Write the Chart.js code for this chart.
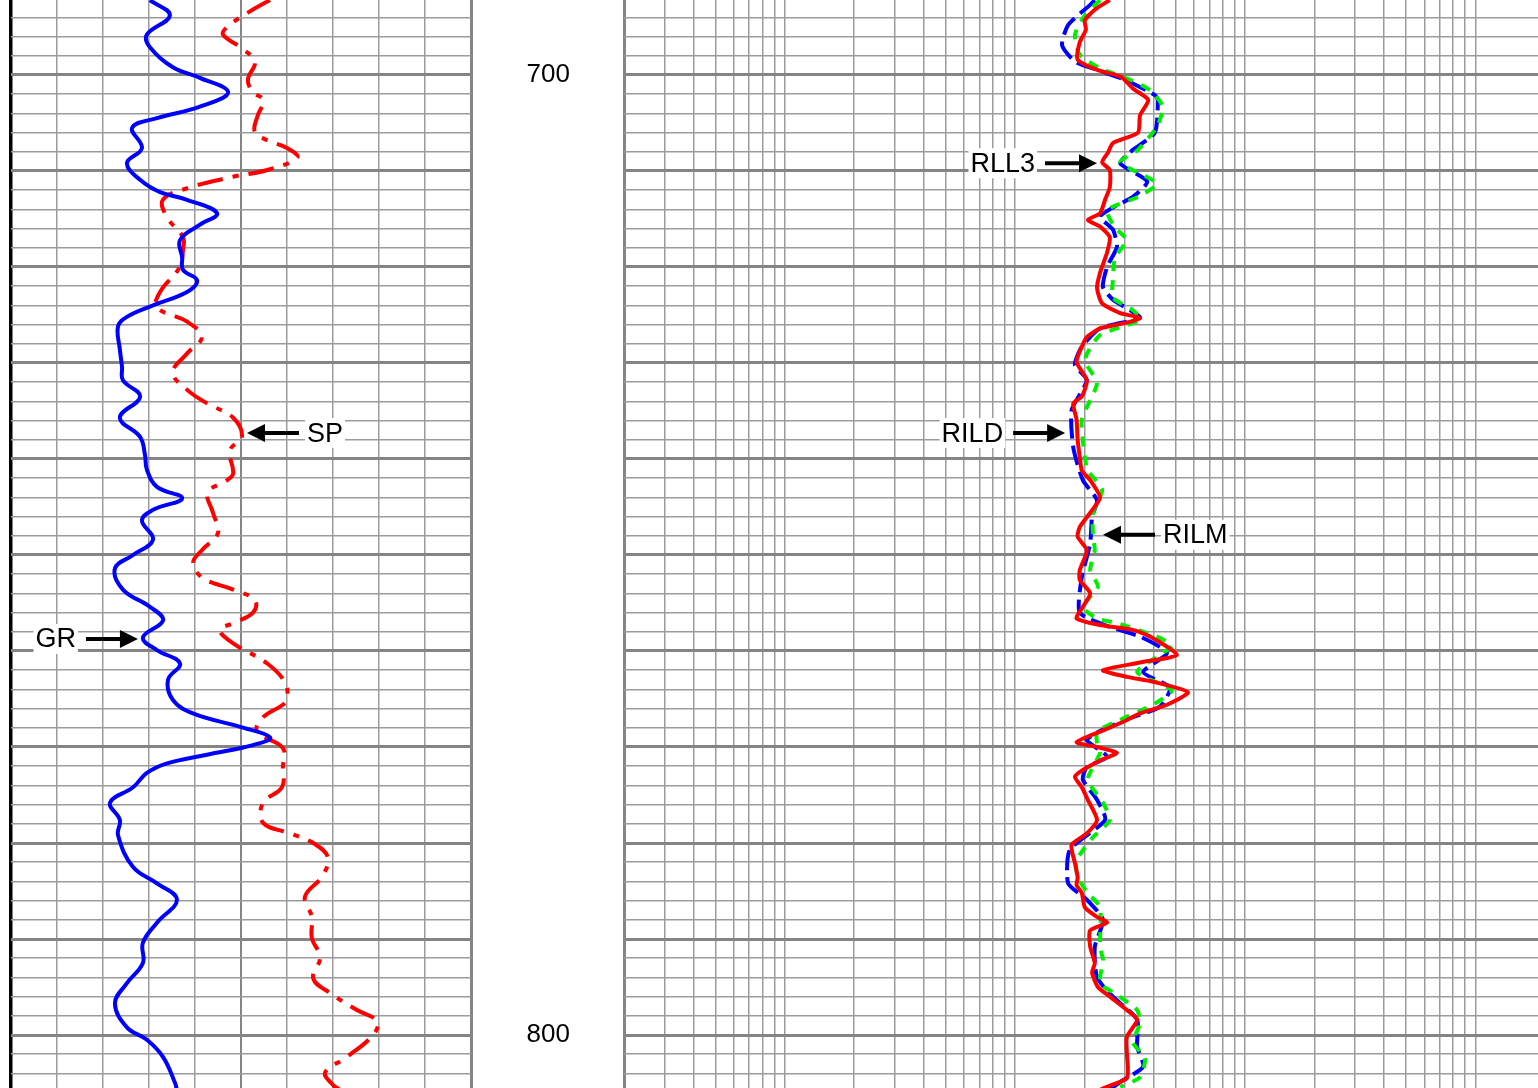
<!DOCTYPE html>
<html>
<head>
<meta charset="utf-8">
<title>Well log</title>
<script src="https://cdn.jsdelivr.net/npm/chart.js@4.4.0/dist/chart.umd.min.js"></script>
<style>
  html, body { margin: 0; padding: 0; background: #fff; overflow: hidden; }
  #wrap { position: relative; width: 1538px; height: 1088px; }
  #trackLeft { position: absolute; left: 0; top: 0; }
  #trackRight { position: absolute; left: 471px; top: 0; }
</style>
</head>
<body>
<div id="wrap">
  <canvas id="trackLeft" width="480" height="1088"></canvas>
  <canvas id="trackRight" width="1067" height="1088"></canvas>
</div>
<script>
// depth window shown (ft)
const topDepth = 692.19;
const baseDepth = 805.52;
const depthLabels = [700, 800];

// track 1 : gamma ray (API) and SP (mV)
const grDepth = [692.2, 693.8, 695.8, 697.1, 699.2, 700.3, 701.8, 703.3, 704.5, 705.5, 707.6, 709.2, 711.0, 712.2, 713.0, 714.4, 715.6, 717.2, 719.0, 720.3, 721.4, 722.6, 724.0, 725.2, 726.2, 728.6, 730.4, 731.8, 733.5, 735.7, 737.7, 739.6, 741.1, 742.9, 744.1, 745.3, 746.4, 748.4, 750.0, 751.4, 753.6, 755.4, 756.8, 758.6, 759.9, 761.3, 763.0, 765.1, 766.5, 767.9, 769.0, 769.8, 770.8, 771.7, 772.7, 774.2, 775.8, 777.6, 779.2, 782.5, 784.2, 785.9, 788.3, 790.4, 792.5, 794.6, 796.7, 799.2, 800.5, 802.3, 805.0, 805.7];
const grApi = [45.3, 51.8, 44.3, 45.3, 52.8, 61.6, 70.8, 61.6, 47.6, 39.5, 42.7, 37.8, 42.4, 48.6, 57.4, 67.2, 61.6, 55.1, 55.8, 56.1, 60.7, 57.4, 46.3, 37.8, 34.9, 35.5, 36.2, 36.5, 42.1, 35.5, 42.1, 43.7, 44.3, 47.6, 55.8, 46.3, 42.7, 46.3, 39.8, 33.9, 36.5, 45.3, 49.6, 43.0, 47.6, 55.1, 51.2, 52.8, 59.3, 74.7, 84.5, 78.9, 63.9, 50.9, 44.3, 39.8, 32.3, 35.5, 34.9, 39.8, 47.6, 54.1, 47.6, 43.0, 43.0, 37.8, 33.9, 37.8, 44.3, 49.6, 53.5, 54.1];

const spDepth = [692.2, 693.5, 695.0, 695.8, 697.1, 698.6, 700.5, 701.8, 702.6, 704.4, 705.9, 706.8, 707.6, 708.6, 709.9, 710.6, 711.8, 713.0, 714.8, 716.9, 718.2, 720.0, 722.6, 724.2, 725.7, 727.3, 729.0, 731.0, 732.8, 734.2, 735.7, 737.7, 739.1, 741.5, 742.2, 743.5, 745.6, 747.7, 749.5, 750.8, 752.4, 753.6, 754.7, 756.0, 757.1, 757.8, 759.2, 761.3, 763.3, 764.9, 765.6, 766.9, 768.4, 770.1, 772.1, 774.2, 775.8, 777.9, 779.0, 780.0, 781.5, 783.5, 785.6, 787.7, 789.9, 791.9, 794.1, 795.6, 797.4, 798.6, 800.0, 802.3, 803.9, 805.2, 805.7];
const spMv = [-23.7, -28.5, -33.0, -33.9, -30.2, -27.0, -28.5, -27.4, -25.2, -26.5, -27.0, -24.3, -20.0, -17.8, -24.3, -31.7, -41.7, -47.0, -46.1, -42.6, -42.6, -43.3, -47.6, -48.3, -41.7, -38.5, -41.7, -44.8, -41.7, -37.4, -31.7, -29.8, -32.4, -31.7, -33.0, -37.2, -36.1, -35.0, -38.5, -40.4, -38.3, -31.7, -27.0, -27.4, -31.7, -34.6, -31.7, -24.3, -20.4, -20.0, -20.9, -25.2, -26.5, -20.9, -20.9, -21.1, -25.2, -25.2, -19.3, -14.3, -11.1, -12.4, -16.1, -14.6, -14.6, -12.8, -14.3, -10.7, -4.8, -0.4, -1.3, -7.0, -11.7, -10.0, -8.5];

// track 2 : resistivity (ohm.m, log scale)
const rll3Depth = [692.2, 693.2, 694.3, 695.3, 696.6, 698.4, 699.5, 700.2, 701.4, 702.6, 704.2, 706.0, 707.1, 708.1, 709.1, 709.9, 711.7, 713.0, 714.4, 715.1, 715.8, 716.9, 718.5, 720.6, 722.2, 723.8, 724.8, 725.3, 725.8, 726.4, 727.3, 728.3, 729.9, 731.8, 733.5, 734.2, 735.9, 738.0, 739.8, 741.2, 742.2, 744.0, 745.6, 747.1, 748.1, 749.5, 751.6, 752.6, 754.0, 755.4, 756.6, 757.3, 757.8, 758.5, 760.4, 761.2, 762.0, 762.7, 763.2, 764.3, 765.6, 766.5, 767.4, 768.4, 769.5, 770.0, 770.6, 771.4, 772.4, 773.1, 774.2, 775.5, 777.6, 779.0, 780.2, 782.1, 783.6, 784.4, 785.2, 786.7, 787.7, 788.3, 789.1, 790.8, 792.5, 793.5, 795.0, 796.0, 797.4, 798.4, 800.2, 801.9, 803.3, 804.5, 805.4, 805.7];
const rll3Ohm = [25.8, 22.2, 20.1, 20.3, 19.1, 18.7, 22.9, 28.9, 32.5, 37.9, 34.9, 34.2, 26.6, 25.3, 23.9, 25.8, 25.8, 24.6, 23.4, 20.7, 23.4, 25.8, 25.1, 23.4, 22.7, 23.9, 28.6, 34.9, 30.6, 23.4, 20.5, 19.5, 18.5, 20.5, 19.5, 17.9, 18.5, 18.7, 19.1, 19.5, 21.2, 23.4, 21.2, 19.1, 18.7, 20.5, 19.1, 19.1, 21.2, 19.7, 18.5, 23.4, 32.5, 38.6, 50.5, 34.9, 24.1, 30.6, 39.7, 56.4, 45.7, 34.9, 29.4, 23.4, 18.5, 22.7, 27.7, 23.4, 19.7, 18.2, 19.5, 20.7, 22.7, 20.5, 17.6, 18.2, 18.7, 18.5, 19.5, 20.1, 22.7, 25.1, 21.2, 21.2, 22.2, 21.6, 22.9, 25.8, 30.6, 33.9, 30.6, 30.6, 30.9, 30.6, 25.1, 23.4];

const rildDepth = [692.2, 692.7, 694.8, 696.9, 698.6, 699.5, 700.5, 702.1, 702.6, 706.0, 707.8, 709.2, 711.1, 712.7, 713.8, 714.8, 716.1, 717.9, 720.0, 722.1, 723.4, 724.5, 725.3, 726.4, 728.3, 730.2, 731.8, 734.9, 738.8, 742.2, 744.3, 746.0, 748.8, 752.3, 756.0, 757.5, 758.5, 760.2, 762.2, 763.8, 765.8, 767.0, 768.5, 769.3, 771.0, 772.1, 773.4, 775.5, 777.6, 780.7, 784.2, 785.9, 788.0, 790.8, 794.0, 796.0, 798.4, 801.2, 803.3, 804.9, 805.7];
const rildOhm = [22.2, 21.2, 17.0, 16.0, 18.2, 22.9, 30.0, 40.5, 41.7, 40.5, 32.5, 28.6, 37.5, 32.5, 26.6, 23.4, 26.6, 27.7, 25.1, 24.1, 26.6, 31.6, 34.9, 23.4, 19.5, 18.2, 20.5, 17.6, 17.9, 19.7, 22.7, 21.6, 21.2, 19.5, 19.1, 25.8, 34.9, 45.7, 36.0, 47.1, 42.6, 31.6, 22.7, 20.5, 25.1, 20.5, 19.7, 22.7, 24.6, 17.3, 17.0, 20.5, 24.1, 22.2, 22.7, 26.6, 33.9, 33.9, 36.0, 28.6, 25.8];

const rilmDepth = [692.2, 693.8, 695.8, 697.9, 699.3, 700.5, 701.6, 703.3, 705.4, 707.8, 709.1, 711.3, 712.7, 714.1, 715.9, 717.2, 719.0, 721.4, 723.2, 724.5, 725.5, 727.1, 729.7, 732.1, 735.9, 739.8, 741.2, 743.2, 745.6, 748.1, 749.5, 751.6, 753.3, 755.4, 756.6, 757.1, 758.5, 759.4, 760.2, 762.2, 764.1, 765.6, 767.5, 768.4, 769.6, 770.6, 773.4, 775.8, 777.6, 779.4, 781.8, 783.5, 785.1, 786.7, 790.8, 792.2, 794.6, 795.8, 797.4, 798.8, 800.8, 802.4, 804.4, 805.4];
const rilmOhm = [23.4, 20.1, 18.2, 19.1, 23.4, 31.6, 38.6, 43.9, 41.3, 34.2, 28.6, 41.3, 34.2, 25.1, 27.2, 30.6, 27.2, 26.6, 26.6, 32.5, 34.9, 23.4, 20.1, 22.7, 19.5, 20.1, 20.7, 23.9, 21.8, 21.8, 22.2, 21.2, 22.9, 19.7, 22.7, 27.7, 41.3, 48.0, 43.9, 33.9, 48.0, 39.7, 26.6, 22.7, 22.7, 23.4, 20.7, 24.1, 25.8, 21.8, 18.5, 18.7, 20.5, 23.4, 23.4, 24.1, 23.4, 27.7, 33.9, 34.9, 32.5, 36.7, 34.9, 28.6];

// curve names with arrow tips (depth, value)
const leftCallouts = [
  { text: 'SP', axis: 'xsp', value: -28.7, depth: 737.3, side: 'right' },
  { text: 'GR', axis: 'x', value: 41.4, depth: 758.75, side: 'left' }
];
const rightCallouts = [
  { text: 'RLL3', axis: 'x', value: 22.7, depth: 709.2, side: 'left' },
  { text: 'RILD', axis: 'x', value: 16.5, depth: 737.3, side: 'left' },
  { text: 'RILM', axis: 'x', value: 24.1, depth: 747.9, side: 'right' }
];

const toPoints = (depths, values) => depths.map((d, i) => ({ x: values[i], y: d }));

// gridline ticks: every 2 ft, heavy every 10 ft
const depthTicks = [];
for (let d = 694; d <= 804; d += 2) depthTicks.push(d);

const logTicks = [];
[0.1, 1, 10, 100, 1000].forEach((p) => {
  for (let m = 1; m <= 9; m++) {
    const v = Number((m * p).toPrecision(3));
    if (v >= 0.2 && v <= 1000) logTicks.push(v);
  }
});

Chart.defaults.font.family = "'Liberation Sans', Arial, sans-serif";
Chart.defaults.animation = false;
Chart.defaults.events = [];

const gridMinor = '#9b9b9b';
const gridMajor = '#858585';

const noSize = (s) => { s.height = 0; s.paddingLeft = 0; s.paddingRight = 0; };

const calloutPlugin = {
  id: 'callouts',
  afterDatasetsDraw(chart, args, opts) {
    const ctx = chart.ctx;
    const yScale = chart.scales.y;
    opts.items.forEach((c) => {
      const tipX = chart.scales[c.axis].getPixelForValue(c.value);
      const tipY = yScale.getPixelForValue(c.depth);
      const dir = c.side === 'right' ? 1 : -1;
      const shaftEnd = tipX + dir * 52;
      ctx.save();
      ctx.strokeStyle = '#000';
      ctx.fillStyle = '#000';
      ctx.lineWidth = 4;
      ctx.beginPath();
      ctx.moveTo(tipX + dir * 14, tipY);
      ctx.lineTo(shaftEnd, tipY);
      ctx.stroke();
      ctx.beginPath();
      ctx.moveTo(tipX, tipY);
      ctx.lineTo(tipX + dir * 18, tipY - 9);
      ctx.lineTo(tipX + dir * 18, tipY + 9);
      ctx.closePath();
      ctx.fill();
      ctx.font = "27px 'Liberation Sans', Arial, sans-serif";
      const w = ctx.measureText(c.text).width;
      const tx = c.side === 'right' ? shaftEnd + 8 : shaftEnd - 10 - w;
      ctx.fillStyle = '#fff';
      ctx.fillRect(tx - 2, tipY - 15, w + 4, 30);
      ctx.fillStyle = '#000';
      ctx.textBaseline = 'middle';
      ctx.fillText(c.text, tx, tipY + 1);
      ctx.restore();
    });
  }
};

const depthAxis = (showLabels) => ({
  type: 'linear',
  reverse: true,
  min: topDepth,
  max: baseDepth,
  position: 'left',
  afterBuildTicks: (s) => { s.ticks = depthTicks.map((v) => ({ value: v })); },
  afterFit: (s) => {
    s.width = showLabels ? 153 : 0;
    s.paddingTop = 0;
    s.paddingBottom = 0;
  },
  border: { display: false },
  grid: {
    drawTicks: false,
    color: (c) => (c.tick.value % 10 === 0 ? gridMajor : gridMinor),
    lineWidth: (c) => (c.tick.value % 10 === 0 ? 3 : 1.5)
  },
  ticks: {
    display: showLabels,
    autoSkip: false,
    padding: 54,
    crossAlign: 'center',
    color: '#000',
    font: { size: 26 },
    callback: (v) => (depthLabels.includes(v) ? String(v) : '')
  }
});

// TRACK 1
new Chart(document.getElementById('trackLeft'), {
  type: 'scatter',
  data: {
    datasets: [
      {
        label: 'GR',
        data: toPoints(grDepth, grApi),
        xAxisID: 'x',
        showLine: true,
        borderColor: '#0000ff',
        borderWidth: 4,
        pointRadius: 0,
        tension: 0.4
      },
      {
        label: 'SP',
        data: toPoints(spDepth, spMv),
        xAxisID: 'xsp',
        showLine: true,
        borderColor: '#ff0000',
        borderWidth: 4,
        borderDash: [26, 10, 6, 10],
        pointRadius: 0,
        tension: 0.4
      }
    ]
  },
  options: {
    responsive: false,
    layout: { padding: { left: 11, right: 9, top: 0, bottom: 0 } },
    plugins: {
      legend: { display: false },
      tooltip: { enabled: false },
      callouts: { items: leftCallouts }
    },
    scales: {
      x: {
        type: 'linear',
        min: 0,
        max: 150,
        position: 'bottom',
        afterBuildTicks: (s) => {
          s.ticks = [];
          for (let v = 0; v <= 150; v += 15) s.ticks.push({ value: v });
        },
        afterFit: noSize,
        border: { display: false },
        grid: {
          drawTicks: false,
          color: (c) => (c.tick.value === 0 ? '#000' : (c.tick.value === 75 || c.tick.value === 150) ? gridMajor : gridMinor),
          lineWidth: (c) => (c.tick.value === 0 ? 3.5 : c.tick.value === 150 ? 3 : c.tick.value === 75 ? 2 : 1.5)
        },
        ticks: { display: false }
      },
      xsp: {
        type: 'linear',
        min: -80,
        max: 20,
        display: false
      },
      y: depthAxis(false)
    }
  },
  plugins: [calloutPlugin]
});

// TRACK 2 (with depth column on its left)
new Chart(document.getElementById('trackRight'), {
  type: 'scatter',
  data: {
    datasets: [
      {
        label: 'RLL3',
        data: toPoints(rll3Depth, rll3Ohm),
        showLine: true,
        borderColor: '#ff0000',
        borderWidth: 4,
        pointRadius: 0,
        tension: 0.2
      },
      {
        label: 'RILM',
        data: toPoints(rilmDepth, rilmOhm),
        showLine: true,
        borderColor: '#00ee00',
        borderWidth: 4,
        borderDash: [10, 9],
        pointRadius: 0,
        tension: 0.2
      },
      {
        label: 'RILD',
        data: toPoints(rildDepth, rildOhm),
        showLine: true,
        borderColor: '#0000ff',
        borderWidth: 4,
        borderDash: [20, 7],
        pointRadius: 0,
        tension: 0.2
      }
    ]
  },
  options: {
    responsive: false,
    layout: { padding: 0 },
    plugins: {
      legend: { display: false },
      tooltip: { enabled: false },
      callouts: { items: rightCallouts }
    },
    scales: {
      x: {
        type: 'logarithmic',
        min: 0.2,
        max: 1870,
        position: 'bottom',
        afterBuildTicks: (s) => { s.ticks = logTicks.map((v) => ({ value: v })); },
        afterFit: noSize,
        border: { display: false },
        grid: {
          drawTicks: false,
          color: (c) => (c.tick.value === 0.2 ? gridMajor : gridMinor),
          lineWidth: (c) => (c.tick.value === 0.2 ? 3 : 1.5)
        },
        ticks: { display: false }
      },
      y: depthAxis(true)
    }
  },
  plugins: [calloutPlugin]
});
</script>
</body>
</html>
